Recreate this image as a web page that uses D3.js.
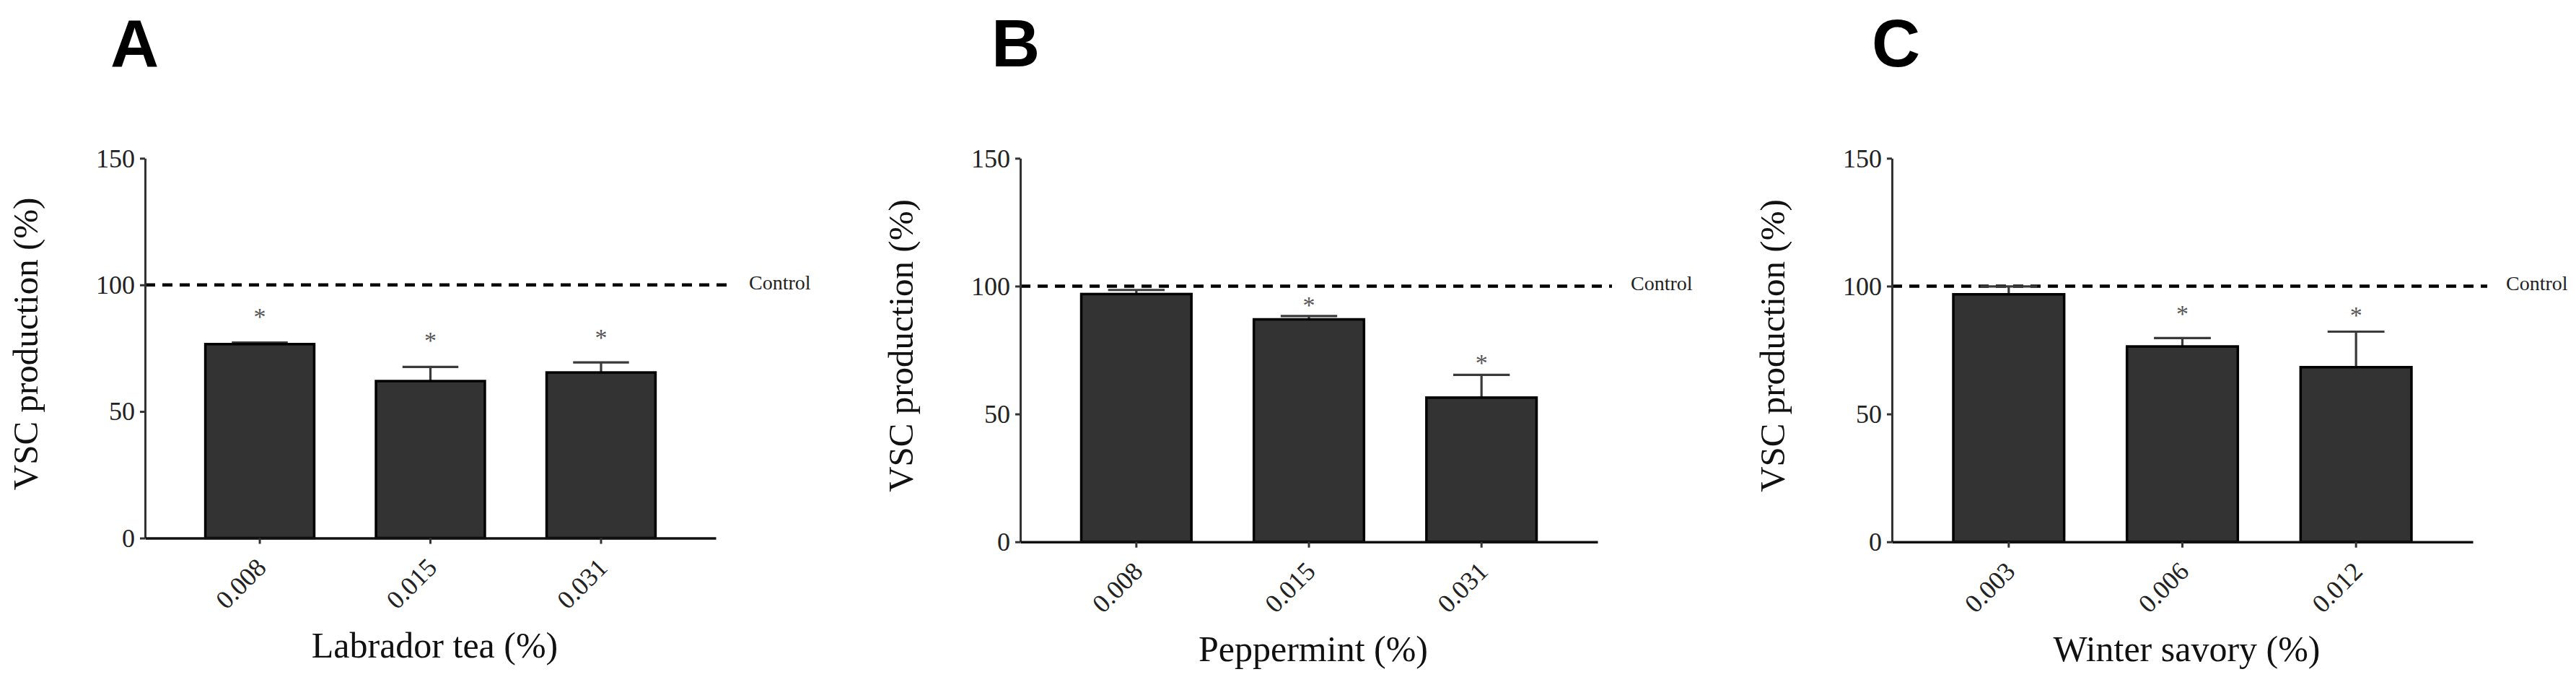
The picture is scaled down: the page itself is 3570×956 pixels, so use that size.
<!DOCTYPE html>
<html>
<head>
<meta charset="utf-8">
<script src="https://cdn.jsdelivr.net/npm/d3@7"></script>
<style>
  html, body { margin: 0; padding: 0; background: #fff; }
  svg { display: block; }
</style>
</head>
<body>
<svg id="chart" width="3570" height="956"></svg>
<script>
// ---------------- DATA ----------------
const panelLetters = ["A", "B", "C"];
const xTitles = ["Labrador tea (%)", "Peppermint (%)", "Winter savory (%)"];
const yTitle = "VSC production (%)";
const yTicks = [0, 50, 100, 150];
const controlValue = 100;
const controlLabel = "Control";

const categoriesA = ["0.008", "0.015", "0.031"];
const meansA = [76.6, 62.0, 65.4];
const errorsA = [0.6, 5.6, 4.0];
const starsA = [89, 79.7, 80.8];     // asterisk heights (value units)

const categoriesB = ["0.008", "0.015", "0.031"];
const meansB = [96.9, 87.0, 56.4];
const errorsB = [1.6, 1.3, 8.9];
const starsB = [null, 94.1, 71.6];

const categoriesC = ["0.003", "0.006", "0.012"];
const meansC = [96.8, 76.4, 68.3];
const errorsC = [3.1, 3.3, 13.9];
const starsC = [null, 90.9, 90.3];

const categoriesAll = [categoriesA, categoriesB, categoriesC];
const meansAll = [meansA, meansB, meansC];
const errorsAll = [errorsA, errorsB, errorsC];
const starsAll = [starsA, starsB, starsC];

// ---------------- LAYOUT ----------------
const layout = [
  { x0: 201,  x1: 992,  yTop: 219.3, y0: 745.5, letterX: 153,  xTitleY: 911 },
  { x0: 1414, x1: 2214, yTop: 219.3, y0: 750.7, letterX: 1374, xTitleY: 916 },
  { x0: 2622, x1: 3427, yTop: 219.3, y0: 750.7, letterX: 2594, xTitleY: 916 }
];

const serif = "'Liberation Serif', 'Times New Roman', serif";
const sans = "'Liberation Sans', Arial, sans-serif";

const svg = d3.select("#chart");

layout.forEach((L, p) => {
  const cats = categoriesAll[p];
  const means = meansAll[p];
  const errs = errorsAll[p];
  const stars = starsAll[p];

  const x = d3.scaleBand().domain(cats).range([L.x0, L.x1]).padding(0.345);
  const y = d3.scaleLinear().domain([0, 150]).range([L.y0, L.yTop]);

  const g = svg.append("g");

  // panel letter
  g.append("text")
    .attr("x", L.letterX).attr("y", 92)
    .attr("font-family", sans).attr("font-weight", "bold")
    .attr("font-size", 93).attr("fill", "#000")
    .text(panelLetters[p]);

  // control dashed line
  g.append("line")
    .attr("x1", L.x0).attr("x2", L.x1 + 20)
    .attr("y1", y(controlValue)).attr("y2", y(controlValue))
    .attr("stroke", "#000").attr("stroke-width", 4.5)
    .attr("stroke-dasharray", "14,10");

  g.append("text")
    .attr("x", L.x1 + 46).attr("y", y(controlValue) + 6)
    .attr("font-family", serif).attr("font-size", 28).attr("fill", "#222")
    .text(controlLabel);

  // error bars (upper only)
  const capHalf = x.bandwidth() * 0.25;
  const eb = g.append("g").attr("stroke", "#3a3a3a").attr("stroke-width", 3.2);
  cats.forEach((c, i) => {
    const cx = x(c) + x.bandwidth() / 2;
    eb.append("line")
      .attr("x1", cx).attr("x2", cx)
      .attr("y1", y(means[i])).attr("y2", y(means[i] + errs[i]));
    eb.append("line")
      .attr("x1", cx - capHalf).attr("x2", cx + capHalf)
      .attr("y1", y(means[i] + errs[i])).attr("y2", y(means[i] + errs[i]));
  });

  // bars
  g.append("g").selectAll("rect")
    .data(cats)
    .join("rect")
    .attr("x", d => x(d) + 2)
    .attr("width", x.bandwidth() - 4)
    .attr("y", (d, i) => y(means[i]))
    .attr("height", (d, i) => y(0) - y(means[i]))
    .attr("fill", "#333333")
    .attr("stroke", "#000")
    .attr("stroke-width", 3.5);

  // asterisks
  g.append("g").selectAll("text")
    .data(cats.map((c, i) => ({ c, s: stars[i] })).filter(d => d.s != null))
    .join("text")
    .attr("x", d => x(d.c) + x.bandwidth() / 2)
    .attr("y", d => y(d.s) + 17)
    .attr("text-anchor", "middle")
    .attr("font-family", serif).attr("font-size", 34).attr("fill", "#555")
    .text("*");

  // y axis
  const yAxis = g.append("g")
    .attr("transform", `translate(${L.x0},0)`)
    .call(d3.axisLeft(y).tickValues(yTicks).tickSize(7).tickPadding(7).tickSizeOuter(0));
  yAxis.select(".domain").attr("stroke", "#333").attr("stroke-width", 3);
  yAxis.selectAll(".tick line").attr("stroke", "#333").attr("stroke-width", 3);
  yAxis.selectAll(".tick text")
    .attr("font-family", serif).attr("font-size", 36).attr("fill", "#222")
    .attr("dy", "0.33em");

  // x axis
  const xAxis = g.append("g")
    .attr("transform", `translate(0,${L.y0})`)
    .call(d3.axisBottom(x).tickSize(8).tickSizeOuter(0));
  xAxis.select(".domain").attr("stroke", "#111").attr("stroke-width", 3.5);
  xAxis.selectAll(".tick line").attr("stroke", "#333").attr("stroke-width", 3);
  xAxis.selectAll(".tick text")
    .attr("font-family", serif).attr("font-size", 36).attr("fill", "#222")
    .attr("text-anchor", "end")
    .attr("dy", null)
    .attr("y", null)
    .attr("transform", "translate(11,43) rotate(-45)");

  // axis titles
  g.append("text")
    .attr("transform", `translate(${L.x0 - 149},${(L.yTop + L.y0) / 2 - 6}) rotate(-90)`)
    .attr("text-anchor", "middle")
    .attr("font-family", serif).attr("font-size", 49).attr("fill", "#111")
    .text(yTitle);

  g.append("text")
    .attr("x", (L.x0 + L.x1) / 2 + 6).attr("y", L.xTitleY)
    .attr("text-anchor", "middle")
    .attr("font-family", serif).attr("font-size", 50).attr("fill", "#111")
    .text(xTitles[p]);
});
</script>
</body>
</html>
